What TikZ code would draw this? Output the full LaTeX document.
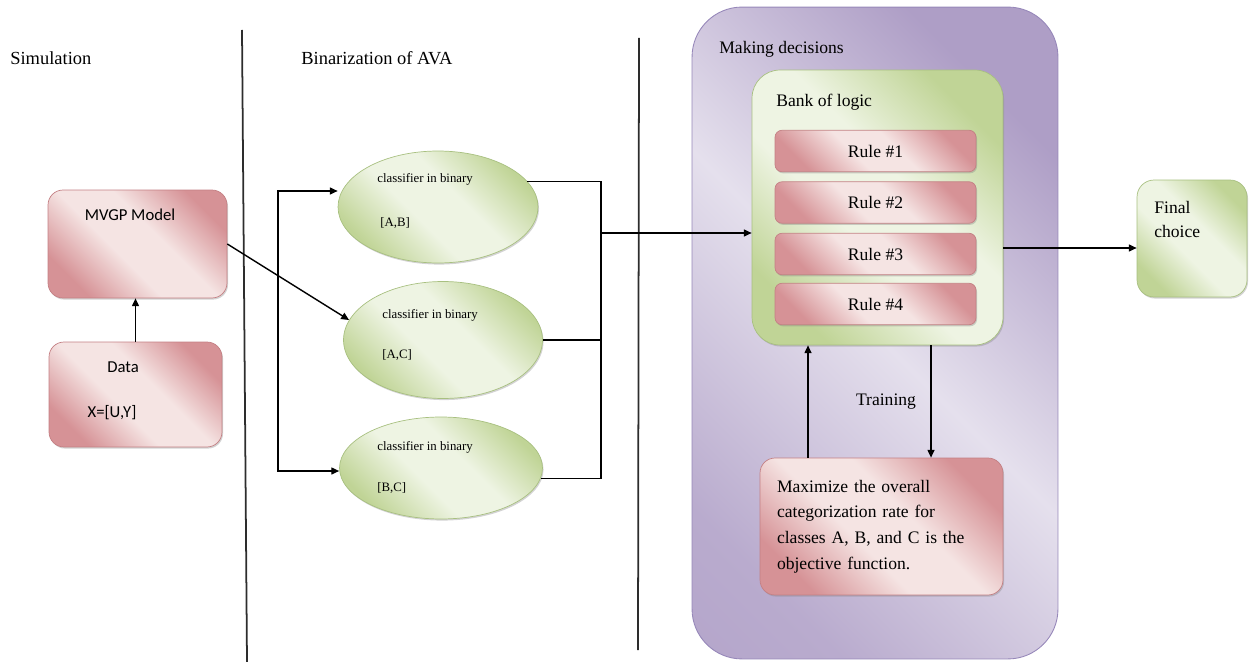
\documentclass[tikz,border=0pt]{standalone}
\usepackage{fontspec}
\setmainfont{Liberation Serif}
\newfontfamily\serf{Liberation Serif}
\newfontfamily\calfnt{Carlito}
\usetikzlibrary{arrows.meta,shapes.geometric,shadows}

\definecolor{pinkD}{RGB}{214,146,150}
\definecolor{pinkL}{RGB}{245,228,227}
\definecolor{greenD}{RGB}{192,212,150}
\definecolor{greenL}{RGB}{238,244,227}
\definecolor{purpD}{RGB}{174,158,198}
\definecolor{purpL}{RGB}{229,224,237}
\definecolor{pinkB}{RGB}{196,128,132}
\definecolor{greenB}{RGB}{168,192,128}
\definecolor{purpB}{RGB}{150,135,185}
\definecolor{divc}{RGB}{45,45,45}

\pgfdeclarehorizontalshading{pinkband}{100bp}{color(0bp)=(pinkD); color(25bp)=(pinkD); color(43bp)=(pinkL); color(57bp)=(pinkL); color(75bp)=(pinkD); color(100bp)=(pinkD)}
\pgfdeclarehorizontalshading{greenband}{100bp}{color(0bp)=(greenD); color(25bp)=(greenD); color(43bp)=(greenL); color(57bp)=(greenL); color(75bp)=(greenD); color(100bp)=(greenD)}
\pgfdeclarehorizontalshading{purpband}{100bp}{color(0bp)=(purpD); color(25bp)=(purpD!80!purpL); color(50bp)=(purpL); color(75bp)=(purpD); color(100bp)=(purpD)}

\begin{document}
\begin{tikzpicture}[x=0.02cm,y=-0.02cm,
  hfont/.style={font=\serf\fontsize{10.5}{12}\selectfont},
  tfont/.style={font=\serf\fontsize{10}{12}\selectfont},
  cfont/.style={font=\calfnt\fontsize{9.5}{11}\selectfont},
  efont/.style={font=\serf\fontsize{7.3}{9}\selectfont},
  shadowed/.style={drop shadow={shadow xshift=0.6pt,shadow yshift=-0.9pt,opacity=0.35}},
  pinkbox/.style={shade, shading=pinkband, shading angle=45, draw=pinkB, line width=0.4pt, inner sep=0pt, shadowed},
  greenbox/.style={shade, shading=greenband, shading angle=45, draw=greenB, line width=0.4pt, inner sep=0pt, shadowed},
  ellbox/.style={ellipse, shade, shading=greenband, shading angle=45, draw=greenB, line width=0.4pt, inner sep=0pt, shadowed},
  rulebox/.style={pinkbox, rounded corners=0.14cm, minimum width=4.02cm, minimum height=0.83cm, tfont},
  conn/.style={line width=0.8pt, black},
  arr/.style={-{Triangle[length=4.5pt,width=4pt]}},
  arrboth/.style={{Triangle[length=4.5pt,width=4pt]}-{Triangle[length=4.5pt,width=4pt]}},
  divider/.style={line width=1pt, divc}
]
\useasboundingbox (0,0) rectangle (1250,662);

% dividers and headings
\coordinate (d1t) at (242,30);
\coordinate (d1b) at (247,662);
\coordinate (d2t) at (639,38);
\coordinate (d2b) at (638,650);
\draw[divider] (d1t) -- (d1b);
\draw[divider] (d2t) -- (d2b);
\node[hfont, anchor=west, inner sep=0] (hsim) at (10,58) {Simulation};
\node[hfont, anchor=west, inner sep=0] (hbin) at (301,58) {Binarization of AVA};

% simulation column
\node[pinkbox, rounded corners=0.3cm, minimum width=3.58cm, minimum height=2.16cm] (mvgp) at (137.5,244) {};
\node[cfont, inner sep=0] (mvgptxt) at (130,215) {MVGP Model};
\node[pinkbox, rounded corners=0.3cm, minimum width=3.46cm, minimum height=2.1cm] (data) at (135.5,394.5) {};
\node[cfont, inner sep=0] (datatxt) at (123,367) {Data};
\node[cfont, inner sep=0] (xtxt) at (112,413) {X=[U,Y]};

% binarization column
\node[ellbox, minimum width=4cm, minimum height=2.24cm] (E1) at (438,207) {};
\node[ellbox, minimum width=3.98cm, minimum height=2.34cm] (E2) at (443,340) {};
\node[ellbox, minimum width=4.06cm, minimum height=2.04cm] (E3) at (441,468) {};
\node[efont, anchor=west, inner sep=0] (e1a) at (377,179) {classifier in binary};
\node[efont, anchor=west, inner sep=0] (e1b) at (380,223) {[A,B]};
\node[efont, anchor=west, inner sep=0] (e2a) at (382,315) {classifier in binary};
\node[efont, anchor=west, inner sep=0] (e2b) at (382,355) {[A,C]};
\node[efont, anchor=west, inner sep=0] (e3a) at (377,447) {classifier in binary};
\node[efont, anchor=west, inner sep=0] (e3b) at (377,488) {[B,C]};

% decisions column
\node[shade, shading=purpband, shading angle=45, draw=purpB, line width=0.5pt, rounded corners=1cm, minimum width=7.32cm, minimum height=13.04cm, inner sep=0] (dec) at (875,333) {};
\node[tfont, anchor=west, inner sep=0] (dectxt) at (719,49) {Making decisions};
\node[greenbox, rounded corners=0.56cm, minimum width=5.02cm, minimum height=5.5cm] (bank) at (877.5,207.5) {};
\node[tfont, anchor=west, inner sep=0] (banktxt) at (776,102) {Bank of logic};
\node[rulebox] (r1) at (875.5,151) {Rule \#1};
\node[rulebox] (r2) at (875.5,202.5) {Rule \#2};
\node[rulebox] (r3) at (875.5,254) {Rule \#3};
\node[rulebox] (r4) at (875.5,304) {Rule \#4};
\node[pinkbox, rounded corners=0.3cm, minimum width=4.86cm, minimum height=2.74cm, text width=4.18cm, align=left, font=\serf\fontsize{10}{14.6}\selectfont] (obj) at (881.5,526.5) {Maximize the overall\\categorization rate for\\classes A, B, and C is the\\objective function.};
\node[tfont, inner sep=0] (train) at (886,402) {Training};
\node[greenbox, rounded corners=0.34cm, minimum width=2.2cm, minimum height=2.34cm] (final) at (1192,238.5) {};
\node[anchor=west, align=left, inner sep=0, font=\serf\fontsize{10}{14.2}\selectfont] (finaltxt) at (1154,219.5) {Final\\choice};

% connectors
\draw[conn,arr] (data.north) -- (data.north |- mvgp.south);
\draw[conn,arr] (mvgp.east) -- (E2.168);
\coordinate (bt) at (278,191);
\coordinate (bb) at (278,471);
\draw[conn,arrboth] (bt -| E1.west) -- (bt) -- (bb) -- (bb -| E3.west);
\coordinate (cx) at (601,0);
\coordinate (jn) at (601,233);
\draw[conn] (E1.16) -- (E1.16 -| cx) -- (E3.-6 -| cx) -- (E3.-6);
\draw[conn] (E2.east) -- (E2.east -| cx);
\draw[conn,arr] (jn) -- (jn -| bank.west);
\coordinate (outy) at (0,248);
\draw[conn,arr] (bank.east |- outy) -- (final.west |- outy);
\coordinate (upx) at (808,0);
\coordinate (dnx) at (931,0);
\draw[conn,arr] (obj.north -| upx) -- (bank.south -| upx);
\draw[conn,arr] (bank.south -| dnx) -- (obj.north -| dnx);
\end{tikzpicture}
\end{document}
